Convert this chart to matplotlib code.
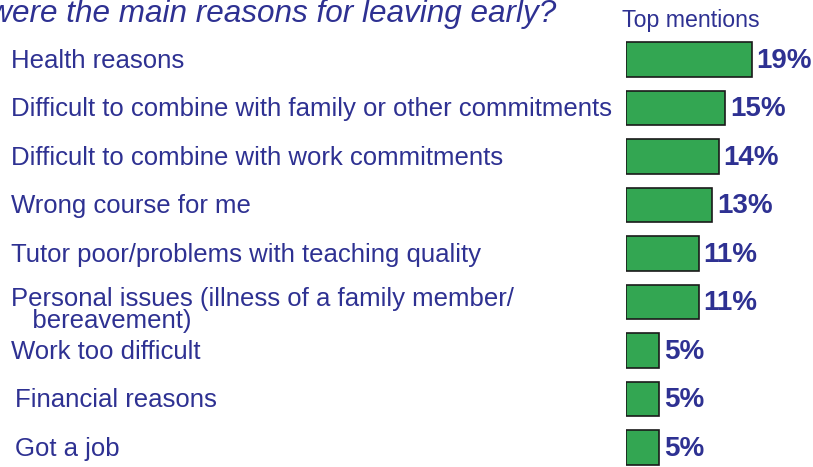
import matplotlib
matplotlib.use("Agg")
from matplotlib import pyplot as plt
from matplotlib.transforms import blended_transform_factory

plt.rcParams["font.family"] = ["Liberation Sans", "DejaVu Sans"]

reasons = [
    "Health reasons",
    "Difficult to combine with family or other commitments",
    "Difficult to combine with work commitments",
    "Wrong course for me",
    "Tutor poor/problems with teaching quality",
    "Personal issues (illness of a family member/\n   bereavement)",
    "Work too difficult",
    "Financial reasons",
    "Got a job",
]
percentages = [19, 15, 14, 13, 11, 11, 5, 5, 5]

title_text = "What were the main reasons for leaving early?"
header_text = "Top mentions"

text_blue = "#2e3192"
bar_green = "#33a652"

W, H = 813, 467
fig = plt.figure(figsize=(W / 100, H / 100), dpi=100)

# axes covers bar area, 1% ~ 6.63px, bar rows every 48.5px starting at 59.5px
x0 = 626 / W
ax = fig.add_axes([x0, 0, 1 - x0, 1])
ax.set_xlim(0, (W - 626) / 6.63)
ax.set_ylim((H - 59.5) / 48.5, -59.5 / 48.5)
ax.axis("off")

ypos = list(range(len(reasons)))
ax.barh(ypos, percentages, height=0.72, color=bar_green,
        edgecolor="#1a1a1a", linewidth=1.2)

for y, v in zip(ypos, percentages):
    ax.text(v + 0.7, y + 0.17, f"{v}%", va="baseline", ha="left",
            fontsize=20, fontweight="bold", color=text_blue)

tr = blended_transform_factory(fig.transFigure, ax.transData)
for y, lab in zip(ypos, reasons):
    indent = 15 if y >= 7 else 11
    # baseline alignment uses the last line for wrapped labels
    dy = 0.53 if "\n" in lab else 0.17
    ax.text(indent / W, y + dy, lab, transform=tr, va="baseline", ha="left",
            fontsize=18.5, color=text_blue, linespacing=0.9)

# title is cut off at the left edge, as in the original slide
fig.text(556 / W, 1 - 22 / H, title_text, ha="right", va="baseline",
         fontsize=22.7, style="italic", color=text_blue)
fig.text(691 / W, 1 - 21 / H, header_text, ha="center", va="center",
         fontsize=16.7, color=text_blue)

fig.savefig("out.png", dpi=100)
